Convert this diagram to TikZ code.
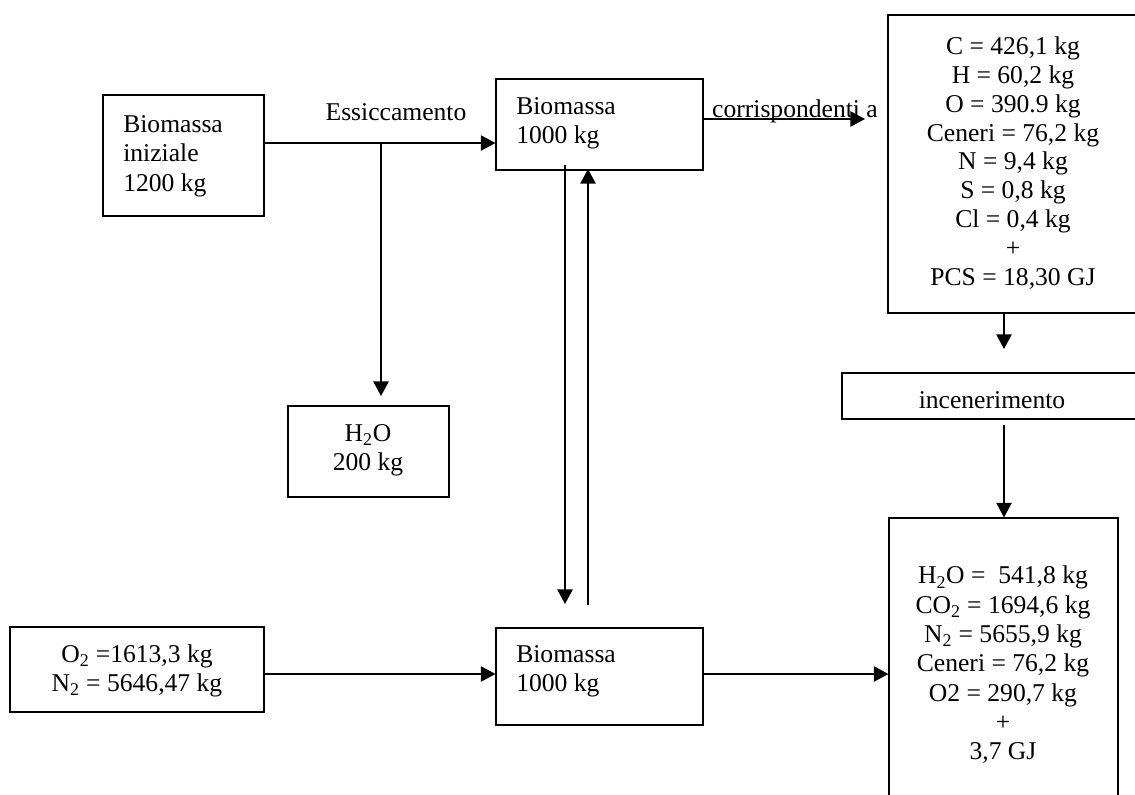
\documentclass[tikz,border=0pt]{standalone}
\usepackage{fontspec}
\setmainfont{Liberation Serif}
\usetikzlibrary{arrows.meta,fit}
\begin{document}
\begin{tikzpicture}[x=0.75pt,y=-0.75pt,
  box/.style={draw, line width=0.8pt, inner sep=0pt},
  txt/.style={inner sep=0pt, font=\fontsize{19.2}{22}\selectfont},
  arr/.style={line width=1.1pt, -{Triangle[length=11pt,width=11.5pt]}}]
\path[use as bounding box] (0,0) rectangle (1135,794);
\clip (0,0) rectangle (1135,794);
\fill[white] (0,0) rectangle (1135,794);
% boxes
\node[box, fit={(103,95) (264,216)}] (b1) {};
\node[txt, align=left, anchor=west] (t1) at (123,156) {Biomassa\\iniziale\\1200 kg};
\node[box, fit={(496,79) (703,170)}] (b2) {};
\node[txt, align=left, anchor=west] (t2) at (516,123) {Biomassa\\1000 kg};
\node[box, fit={(288,406) (449,497)}] (h2o) {};
\node[txt, align=center] (th) at (368,450) {H\textsubscript{2}O\\200 kg};
\node[box, fit={(10,627) (264,712)}] (air) {};
\node[txt, align=center] (ta) at (137,671) {O\textsubscript{2} =1613,3 kg\\N\textsubscript{2} = 5646,47 kg};
\node[box, fit={(496,628) (703,725)}] (b3) {};
\node[txt, align=left, anchor=west] (t3) at (516,671) {Biomassa\\1000 kg};
\node[box, fit={(888,15) (1140,313)}] (comp) {};
\node[txt, align=center, font=\fontsize{19.2}{21.6}\selectfont] (tc) at (1013,163) {C = 426,1 kg\\H = 60,2 kg\\O = 390.9 kg\\Ceneri = 76,2 kg\\N = 9,4 kg\\S = 0,8 kg\\Cl = 0,4 kg\\+\\PCS = 18,30 GJ};
\node[box, fit={(842,373) (1145,419)}] (inc) {};
\node[txt] (ti) at (992,400) {incenerimento};
\node[box, fit={(889,518) (1118,800)}] (prod) {};
\node[txt, align=center] (tp) at (1003,665) {H\textsubscript{2}O = \ 541,8 kg\\CO\textsubscript{2} = 1694,6 kg\\N\textsubscript{2} = 5655,9 kg\\Ceneri = 76,2 kg\\O2 = 290,7 kg\\+\\3,7 GJ};
% labels
\node[txt] (tess) at (396,112) {Essiccamento};
\node[txt, anchor=base] (tcor) at (795,117) {corrispondenti a};
% helper coordinates
\coordinate (y143) at (0,143);
\coordinate (y119) at (0,119);
\coordinate (y674) at (0,674);
\coordinate (x1004) at (1004,0);
\coordinate (br) at (381,143);
\coordinate (hd) at (381,396);
\coordinate (d1) at (565,165);
\coordinate (d2) at (565,604);
\coordinate (u1) at (588,605);
\coordinate (u2) at (588,169);
\coordinate (ct) at (865,119);
\coordinate (c2) at (1004,349);
\coordinate (c3) at (1004,425);
% connectors
\draw[arr] (b1.east |- y143) -- (b2.west |- y143);
\draw[arr] (br) -- (hd);
\draw[arr] (d1) -- (d2);
\draw[arr] (u1) -- (u2);
\draw[arr] (b2.east |- y119) -- (ct);
\draw[arr] (comp.south -| x1004) -- (c2);
\draw[arr] (c3) -- (prod.north -| x1004);
\draw[arr] (air.east |- y674) -- (b3.west |- y674);
\draw[arr] (b3.east |- y674) -- (prod.west |- y674);
\end{tikzpicture}
\end{document}
